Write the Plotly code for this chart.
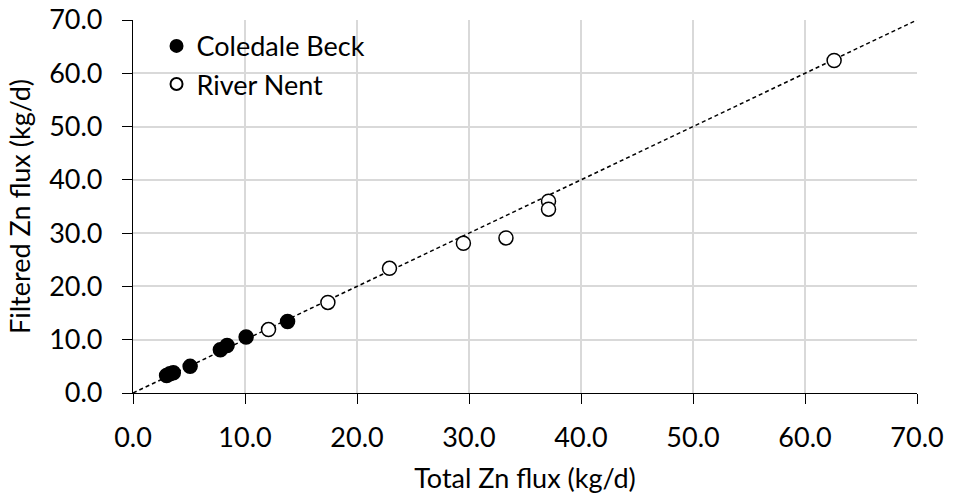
import plotly.graph_objects as go

# Data
coledale_x = [3.0, 3.3, 3.6, 5.1, 7.8, 8.4, 10.1, 13.8]
coledale_y = [3.3, 3.6, 3.8, 5.0, 8.1, 8.9, 10.5, 13.4]
nent_x = [12.1, 17.4, 22.9, 29.5, 33.3, 37.1, 37.1, 62.6]
nent_y = [11.9, 17.0, 23.4, 28.1, 29.1, 36.0, 34.5, 62.4]
line_x = [0, 70]
line_y = [0, 70]

FONT = "Lato"
FS = 27

fig = go.Figure()
fig.add_trace(go.Scatter(x=line_x, y=line_y, mode="lines",
                         line=dict(color="black", width=1.5, dash="4px,3px"),
                         showlegend=False, hoverinfo="skip"))
fig.add_trace(go.Scatter(x=coledale_x, y=coledale_y, mode="markers", name="Coledale Beck",
                         marker=dict(size=14, color="black", line=dict(color="black", width=1.5))))
fig.add_trace(go.Scatter(x=nent_x, y=nent_y, mode="markers", name="River Nent",
                         marker=dict(size=14, color="white", line=dict(color="black", width=1.5))))

axis_common = dict(
    range=[0, 70], dtick=10, tickformat=".1f",
    showgrid=True, gridcolor="#d9d9d9", gridwidth=1.5,
    showline=True, linecolor="black", linewidth=1.2,
    ticks="outside", ticklen=10, tickcolor="black", tickwidth=1.2,
    zeroline=False, tickfont=dict(family=FONT, size=FS, color="black"),
    automargin=False, ticklabeloverflow="allow",
)

fig.update_layout(
    width=955, height=499,
    margin=dict(l=133, r=38, t=20, b=106),
    paper_bgcolor="white", plot_bgcolor="white",
    font=dict(family=FONT, size=FS, color="black"),
    xaxis=dict(**axis_common, title=dict(text="Total Zn flux (kg/d)", standoff=17,
                                         font=dict(family=FONT, size=FS, color="black")),
               ticklabelstandoff=10),
    yaxis=dict(**axis_common, title=dict(text="Filtered Zn flux (kg/d)", standoff=10,
                                         font=dict(family=FONT, size=FS, color="black")),
               ticklabelstandoff=14),
    legend=dict(x=0.03, y=0.995, xanchor="left", yanchor="top",
                bgcolor="rgba(0,0,0,0)", font=dict(family=FONT, size=FS, color="black"),
                itemsizing="constant", tracegroupgap=0),
    showlegend=True,
)

fig.write_html("out.html", config={"displayModeBar": False},
               post_script="document.body.style.margin='0px';")
